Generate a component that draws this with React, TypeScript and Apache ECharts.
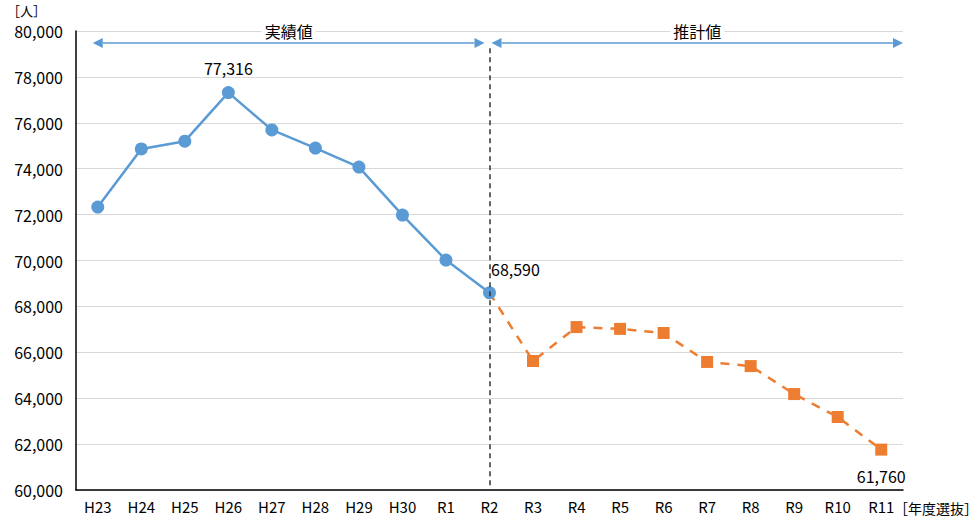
import React, { useEffect, useRef } from "react";
import * as echarts from "echarts";

const categories = ["H23","H24","H25","H26","H27","H28","H29","H30","R1","R2","R3","R4","R5","R6","R7","R8","R9","R10","R11"];
const actualValues: (number | null)[] = [72330, 74860, 75200, 77316, 75690, 74900, 74070, 71980, 70020, 68590, null, null, null, null, null, null, null, null, null];
const forecastValues: (number | null)[] = [null, null, null, null, null, null, null, null, null, 68590, 65620, 67100, 67020, 66840, 65580, 65400, 64180, 63180, 61760];
const yTicks = { min: 60000, max: 80000, interval: 2000 };
const yAxisName = "［人］";
const xAxisName = "［年度選抜］";
const periodLabels = ["実績値", "推計値"];

const FONT = "'Noto Sans CJK JP', sans-serif";
const BLUE = "#5b9bd5";
const ORANGE = "#ed7d31";

const fmt = (v: number) => v.toLocaleString("en-US");

export default function App() {
  const ref = useRef<HTMLDivElement>(null);
  useEffect(() => {
    if (!ref.current) return;
    const chart = echarts.init(ref.current, undefined, { renderer: "svg" });
    const gridLeft = 76, gridRight = 77, gridTop = 31, gridBottom = 27;
    const W = 980, H = 517;

    const actualData = actualValues.map((v, i) => {
      if (v == null) return null;
      if (i === 3) return { value: v, label: { show: true, position: "top", distance: 10 } };
      if (i === 9) return { value: v, label: { show: true, position: "right", offset: [-10, -24] } };
      return v;
    });
    const forecastData = forecastValues.map((v, i) => {
      if (v == null) return null;
      if (i === 9) return { value: v, symbol: "none" };
      if (i === 18) return { value: v, label: { show: true, position: "bottom", distance: 12 } };
      return v;
    });

    chart.setOption({
      animation: false,
      grid: { left: gridLeft, right: gridRight, top: gridTop, bottom: gridBottom, containLabel: false },
      xAxis: {
        type: "category",
        data: categories,
        boundaryGap: true,
        axisLine: { lineStyle: { color: "#000", width: 1.5 } },
        axisTick: { show: false },
        axisLabel: { color: "#000", fontSize: 15, fontFamily: FONT, margin: 9 },
      },
      yAxis: {
        type: "value",
        min: yTicks.min,
        max: yTicks.max,
        interval: yTicks.interval,
        axisLine: { show: true, lineStyle: { color: "#000", width: 1.5 } },
        axisTick: { show: false },
        splitLine: { lineStyle: { color: "#d9d9d9", width: 1 } },
        axisLabel: { color: "#000", fontSize: 16, fontFamily: FONT, margin: 13, formatter: (v: number) => fmt(v) },
      },
      series: [
        {
          type: "line",
          data: actualData,
          symbol: "circle",
          symbolSize: 13,
          lineStyle: { color: BLUE, width: 2.5 },
          itemStyle: { color: BLUE },
          label: { show: false, color: "#000", fontSize: 16, fontFamily: FONT, formatter: (p: any) => fmt(p.value) },
          z: 3,
          markLine: {
            silent: true,
            symbol: "none",
            label: { show: false },
            lineStyle: { color: "#333", type: [5, 4], width: 1.5 },
            data: [[{ coord: ["R2", 79250] }, { coord: ["R2", 60000] }]],
          },
        },
        {
          type: "line",
          data: forecastData,
          symbol: "rect",
          symbolSize: 12,
          lineStyle: { color: ORANGE, width: 2.5, type: [9, 8] },
          itemStyle: { color: ORANGE },
          label: { show: false, color: "#000", fontSize: 16, fontFamily: FONT, formatter: (p: any) => fmt(p.value) },
          z: 2,
        },
      ],
    });

    const xStart = chart.convertToPixel({ xAxisIndex: 0 }, categories[0]) as number;
    const xMid = chart.convertToPixel({ xAxisIndex: 0 }, "R2") as number;
    const xEnd = W - gridRight;
    const yArrow = (chart.convertToPixel({ yAxisIndex: 0 }, 79480) as number);
    const aw = 10, ah = 5;
    const L1 = xStart - 5, R1 = xMid - 5, L2 = xMid + 2, R2 = xEnd;
    const lineStyle = { stroke: BLUE, lineWidth: 1.5 };
    const tri = (pts: number[][]) => ({ type: "polygon", shape: { points: pts }, style: { fill: BLUE }, z: 10 });
    const textStyle = (x: number, txt: string) => ({
      type: "text",
      x, y: gridTop,
      style: {
        text: txt, fill: "#000", font: `16px ${FONT}`, align: "center", verticalAlign: "middle",
        backgroundColor: "#fff", padding: [0, 3],
      },
      z: 11,
    });

    chart.setOption({
      graphic: [
        { type: "line", shape: { x1: L1 + aw, y1: yArrow, x2: R1 - aw, y2: yArrow }, style: lineStyle, z: 10 },
        tri([[L1, yArrow], [L1 + aw, yArrow - ah], [L1 + aw, yArrow + ah]]),
        tri([[R1, yArrow], [R1 - aw, yArrow - ah], [R1 - aw, yArrow + ah]]),
        { type: "line", shape: { x1: L2 + aw, y1: yArrow, x2: R2 - aw, y2: yArrow }, style: lineStyle, z: 10 },
        tri([[L2, yArrow], [L2 + aw, yArrow - ah], [L2 + aw, yArrow + ah]]),
        tri([[R2, yArrow], [R2 - aw, yArrow - ah], [R2 - aw, yArrow + ah]]),
        textStyle((L1 + R1) / 2, periodLabels[0]),
        textStyle((L2 + R2) / 2, periodLabels[1]),
        {
          type: "text", x: 46, y: 10,
          style: { text: yAxisName, fill: "#000", font: `13px ${FONT}`, align: "right", verticalAlign: "middle" },
        },
        {
          type: "text", x: 978, y: H - 9,
          style: { text: xAxisName, fill: "#000", font: `14px ${FONT}`, align: "right", verticalAlign: "middle" },
        },
      ],
    });

    return () => chart.dispose();
  }, []);
  return <div ref={ref} style={{ width: 980, height: 517, position: "absolute", left: 0, top: 0 }} />;
}
